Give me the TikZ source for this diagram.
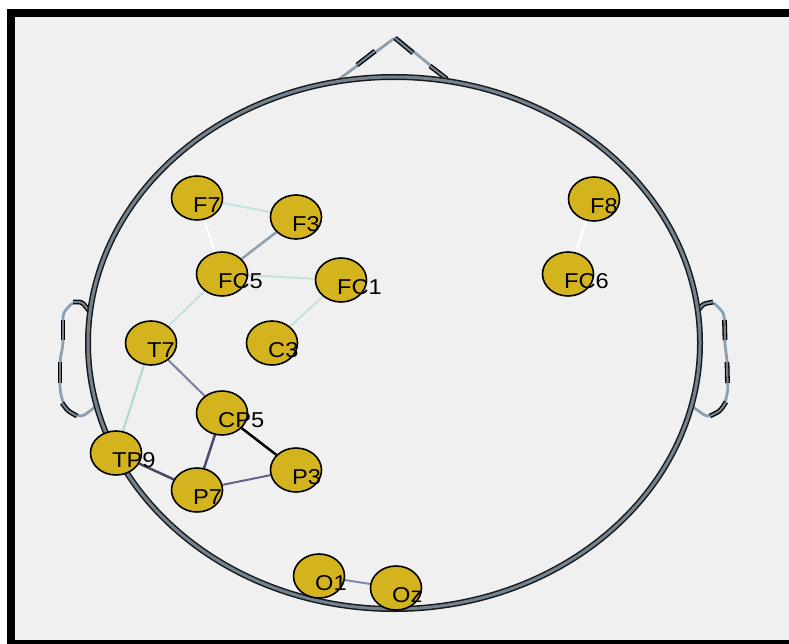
\documentclass[tikz,border=0pt]{standalone}
\usepackage{fontspec}
\setmainfont{Liberation Sans}
\usetikzlibrary{shapes.geometric}
\definecolor{eeggold}{RGB}{212,180,30}
\definecolor{panelgray}{RGB}{240,240,240}
\definecolor{headgray}{RGB}{115,130,145}
\definecolor{earblue}{RGB}{140,160,180}
\definecolor{linkcyan}{RGB}{200,225,225}
\definecolor{linkteal}{RGB}{175,215,215}
\definecolor{linksteel}{RGB}{140,160,175}
\definecolor{linkslate}{RGB}{120,130,155}
\definecolor{linkplum}{RGB}{75,75,115}
\definecolor{linknavy}{RGB}{70,70,100}
\definecolor{linkviolet}{RGB}{100,100,140}
\definecolor{linkblue}{RGB}{125,140,165}
\pgfdeclarelayer{bg}
\pgfdeclarelayer{links}
\pgfsetlayers{bg,links,main}
\newcommand{\elabel}[1]{\scalebox{1.1}[1]{#1}}

\begin{document}
\begin{tikzpicture}[x=1pt,y=-1pt,
  lab/.style={inner sep=0pt,anchor=base west,font=\fontsize{21.5}{25}\selectfont},
  elec/.style={ellipse,draw=black,line width=1.6pt,fill=eeggold,minimum width=51pt,minimum height=44pt,inner sep=0pt},
  head/.style={draw=black!90,double=headgray,double distance=3pt,line width=1.5pt},
  earline/.style={draw=earblue,line width=2.8pt,rounded corners=4pt},
  earmark/.style={draw=black,double=headgray,double distance=2.2pt,line width=1.3pt,rounded corners=3pt},
  link/.style={line width=2pt}]
  \useasboundingbox (0,0) rectangle (789,644);
  \clip (0,0) rectangle (789,644);
  \begin{pgfonlayer}{bg}
  \fill[white] (0,0) rectangle (789,644);
  \draw[line width=8pt,fill=panelgray] (11,13) rectangle (800,644);
  % nose
  \draw[earline] (338,80) -- (396,37) -- (448,80);
  \draw[earmark] (357,65) -- (375,51);
  \draw[earmark] (395,38) -- (413,53);
  \draw[earmark] (430,66) -- (447,79);
  % ears
  \draw[earline] (90,312) -- (82,302) -- (73,302) -- (63,313) -- (63,345) -- (60,360) -- (60,390) -- (63,403) -- (72,413) -- (82,417) -- (95,407);
  \draw[earmark] (90,312) -- (82,302) -- (73,302);
  \draw[earmark] (63,320) -- (63,340);
  \draw[earmark] (60,362) -- (60,383);
  \draw[earmark] (62,403) -- (68,411) -- (77,416);
  \draw[earline] (697,312) -- (705,302) -- (713,302) -- (724,313) -- (725,345) -- (727,360) -- (728,390) -- (725,403) -- (718,413) -- (707,417) -- (693,407);
  \draw[earmark] (697,312) -- (703,304) -- (713,302);
  \draw[earmark] (724.5,320) -- (725,340);
  \draw[earmark] (727,362) -- (727.5,383);
  \draw[earmark] (726,402) -- (720,411) -- (710,416);
  % head
  \draw[head] (394,343) ellipse [x radius=306pt,y radius=266pt];
  \end{pgfonlayer}
  % electrodes
  \foreach \n/\x/\y in {F7/197/198,F3/296/217,FC5/222/274,FC1/341/280,T7/151/343,C3/272/343,CP5/222/413,
    TP9/116/453,P7/197/490,P3/296/470,O1/319/576,Oz/396/588,F8/594/199,FC6/568/274}
    \node[elec] (\n) at (\x,\y) {};
  \foreach \n in {F7,F3,FC5,FC1,T7,C3,CP5,TP9,P7,P3,O1,Oz,F8,FC6}
    \node[lab] (\n t) at ([shift={(-4,14.5)}]\n.center) {\elabel{\n}};
  \begin{pgfonlayer}{links}
  \draw[link,linkcyan] (F7)--(F3); \draw[link,white] (F7)--(FC5); \draw[link,linksteel,line width=2.5pt] (F3)--(FC5);
  \draw[link,linkcyan] (FC5)--(FC1); \draw[link,linkcyan] (FC5)--(T7); \draw[link,linkcyan] (FC1)--(C3);
  \draw[link,linkteal] (T7)--(TP9); \draw[link,linkslate] (T7)--(CP5); \draw[link,black,line width=2.5pt] (CP5)--(P3);
  \draw[link,linkplum,line width=2.5pt] (CP5)--(P7); \draw[link,linknavy,line width=2.5pt] (P7)--(TP9); \draw[link,linkviolet] (P7)--(P3);
  \draw[link,linkblue] (O1)--(Oz); \draw[link,white] (F8)--(FC6);
  \end{pgfonlayer}
\end{tikzpicture}
\end{document}
